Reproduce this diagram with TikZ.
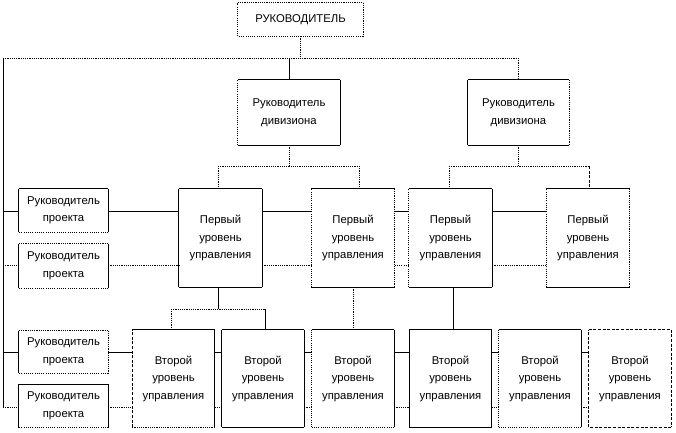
\documentclass[tikz,border=0pt]{standalone}
\usepackage{fontspec}
\setmainfont{Liberation Sans}
\begin{document}
\begin{tikzpicture}[x=1pt,y=-1pt,
  box/.style={draw=none,inner sep=0pt,align=center,font=\fontsize{11.3}{17.5}\selectfont},
  lsolid/.style={draw=black,line width=0.9pt},
  ldot/.style={draw=black,line width=0.9pt,dash pattern=on 1.1pt off 1.1pt},
  ldash/.style={draw=black,line width=0.8pt,dash pattern=on 3pt off 1.6pt},
  lbsolid/.style={draw=black,line width=1.4pt},
  lbdot/.style={draw=black,line width=1.3pt,dash pattern=on 1.1pt off 1.1pt}]
\newcommand\sides[5]{%
  \draw[#2] (#1.north west) -- (#1.north east);
  \draw[#3] (#1.north east) -- (#1.south east);
  \draw[#4] (#1.south east) -- (#1.south west);
  \draw[#5] (#1.south west) -- (#1.north west);}
\useasboundingbox (0,0) rectangle (676,432);
\fill[white] (0,0) rectangle (676,432);

% nodes
\node[box,minimum width=125pt,minimum height=33pt] (top) at (300.5,19.5) {РУКОВОДИТЕЛЬ};
\node[box,minimum width=102pt,minimum height=65pt] (D1) at (289,112.5) {Руководитель\\дивизиона};
\node[box,minimum width=101pt,minimum height=65pt] (D2) at (518.5,112.5) {Руководитель\\дивизиона};

\node[box,minimum width=89pt,minimum height=43pt] (P1) at (63.5,210.5) {Руководитель\\проекта};
\node[box,minimum width=89pt,minimum height=44pt] (P2) at (63.5,266) {Руководитель\\проекта};
\node[box,minimum width=89pt,minimum height=42pt] (P3) at (63.5,352) {Руководитель\\проекта};
\node[box,minimum width=89pt,minimum height=43pt] (P4) at (63.5,406) {Руководитель\\проекта};

\foreach \n/\cx in {F1/220.5,F2/353,F3/450.5,F4/588}
  \node[box,minimum width=83pt,minimum height=98pt] (\n) at (\cx,238) {Первый\\уровень\\управления};
\foreach \n/\cx in {S1/173.5,S2/263,S3/353,S4/450.5,S5/540,S6/630}
  \node[box,minimum width=82pt,minimum height=97pt] (\n) at (\cx,378.5) {Второй\\уровень\\управления};

% box borders: top, right, bottom, left
\sides{top}{ldot}{ldot}{ldot}{ldot}
\sides{D1}{lsolid}{lsolid}{lbsolid}{ldot}
\sides{D2}{lsolid}{ldot}{lbsolid}{lsolid}
\sides{P1}{lsolid}{lsolid}{lbdot}{lsolid}
\sides{P2}{ldot}{lsolid}{lbdot}{lsolid}
\sides{P3}{ldot}{ldot}{lbdot}{lsolid}
\sides{P4}{lsolid}{lsolid}{lbdot}{lsolid}
\sides{F1}{lsolid}{lsolid}{lbsolid}{lsolid}
\sides{F2}{lsolid}{ldot}{lbsolid}{ldot}
\sides{F3}{lsolid}{lsolid}{lbsolid}{ldot}
\sides{F4}{lsolid}{ldot}{lbsolid}{ldot}
\sides{S1}{lsolid}{lsolid}{lbdot}{ldash}
\sides{S2}{lsolid}{lsolid}{lbsolid}{lsolid}
\sides{S3}{lsolid}{lsolid}{lbdot}{ldot}
\sides{S4}{lsolid}{lsolid}{lbsolid}{lsolid}
\sides{S5}{lsolid}{lsolid}{lbdot}{ldot}
\sides{S6}{ldash}{ldash}{ldash}{ldash}

% helper coordinates
\coordinate (Lt) at (3,58);
\coordinate (Lb) at (3,407);
\coordinate (rA) at (0,211);
\coordinate (rB) at (0,265);
\coordinate (rC) at (0,352);
\coordinate (rD) at (0,407);
\coordinate (h1) at (0,166);
\coordinate (h2) at (0,309);
\coordinate (a1) at (218,0);
\coordinate (a2) at (359,0);
\coordinate (b1) at (449,0);
\coordinate (b2) at (589,0);
\coordinate (c1) at (171,0);
\coordinate (c2) at (265,0);
\coordinate (c0) at (218,0);

% top hierarchy
\draw[ldot] (top.south) -- (top.south |- Lt);
\draw[ldot] (Lt) -- (D2.north |- Lt);
\draw[lsolid] (Lt) -- (Lb);
\draw[lsolid] (D1.north |- Lt) -- (D1.north);
\draw[ldot] (D2.north |- Lt) -- (D2.north);

\draw[ldot] (D1.south) -- (D1.south |- h1);
\draw[ldot] (a1 |- h1) -- (a2 |- h1);
\draw[ldot] (a1 |- h1) -- (a1 |- F1.north);
\draw[ldot] (a2 |- h1) -- (a2 |- F2.north);

\draw[ldot] (D2.south) -- (D2.south |- h1);
\draw[ldot] (b1 |- h1) -- (b2 |- h1);
\draw[ldot] (b1 |- h1) -- (b1 |- F3.north);
\draw[ldash] (b2 |- h1) -- (b2 |- F4.north);

% first level to second level
\draw[lsolid] (c0 |- F1.south) -- (c0 |- h2);
\draw[ldot] (c1 |- h2) -- (c2 |- h2);
\draw[ldot] (c1 |- h2) -- (c1 |- S1.north);
\draw[lsolid] (c2 |- h2) -- (c2 |- S2.north);
\draw[ldot] (F2.south) -- (F2.south |- S3.north);
\draw[lsolid] ([xshift=2.5pt]F3.south) -- ([xshift=2.5pt]F3.south |- S4.north);

% row A (solid) and row B (dotted)
\draw[lsolid] (Lt |- rA) -- (P1.west |- rA);
\draw[lsolid] (P1.east |- rA) -- (F1.west |- rA);
\draw[lsolid] (F1.east |- rA) -- (F2.west |- rA);
\draw[lsolid] (F2.east |- rA) -- (F3.west |- rA);
\draw[lsolid] (F3.east |- rA) -- (F4.west |- rA);

\draw[ldot] (Lt |- rB) -- (P2.west |- rB);
\draw[ldot] (P2.east |- rB) -- (F1.west |- rB);
\draw[ldot] (F1.east |- rB) -- (F2.west |- rB);
\draw[ldot] (F2.east |- rB) -- (F3.west |- rB);
\draw[ldot] (F3.east |- rB) -- (F4.west |- rB);

% row C (solid) and row D (dotted)
\draw[lsolid] (Lt |- rC) -- (P3.west |- rC);
\draw[lsolid] (P3.east |- rC) -- (S1.west |- rC);
\draw[ldot] (Lb) -- (P4.west |- rD);
\draw[ldot] (P4.east |- rD) -- (S1.west |- rD);
\foreach \a/\b in {S1/S2,S2/S3,S3/S4,S4/S5,S5/S6}{
  \draw[lsolid] (\a.east |- rC) -- (\b.west |- rC);
  \draw[ldot] (\a.east |- rD) -- (\b.west |- rD);
}
\end{tikzpicture}
\end{document}
